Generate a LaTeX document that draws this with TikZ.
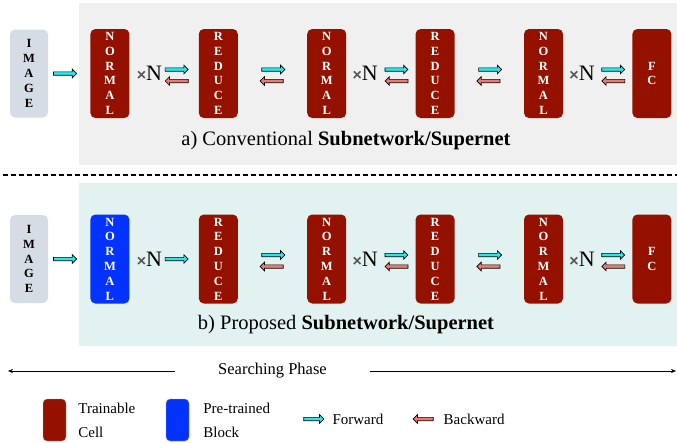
\documentclass[tikz,border=0pt]{standalone}
\usepackage{fontspec}
\setmainfont{Liberation Serif}
\setsansfont{Liberation Sans}
\usetikzlibrary{positioning, calc, shapes.arrows, arrows.meta}

\definecolor{cellred}{RGB}{148,17,0}
\definecolor{blockblue}{RGB}{4,51,255}
\definecolor{imggray}{RGB}{214,220,229}
\definecolor{panelgray}{RGB}{240,240,240}
\definecolor{panelteal}{RGB}{226,242,241}
\definecolor{fwdcyan}{RGB}{40,232,236}
\definecolor{bwdred}{RGB}{240,122,112}
\definecolor{xgray}{RGB}{85,85,85}

\newcommand{\repN}{{\fontsize{16}{16}\selectfont\sffamily\bfseries\textcolor{xgray}{×}}N}

\tikzset{
  box/.style={rounded corners=5pt, minimum width=39pt, minimum height=89pt, inner sep=0pt,
    align=center, font=\fontsize{12.5}{14.8}\selectfont\bfseries},
  cell/.style={box, fill=cellred, text=white},
  pre/.style={box, fill=blockblue, text=white},
  img/.style={box, fill=imggray, text=black, minimum width=38pt, minimum height=88pt},
  fwd/.style={single arrow, draw=black, line width=0.7pt, fill=fwdcyan, minimum height=23pt,
    inner sep=0pt, text height=2.6pt, text depth=0pt, single arrow head extend=2.6pt},
  bwd/.style={fwd, fill=bwdred, shape border rotate=180},
  rep/.style={font=\fontsize{22}{22}\selectfont, inner sep=0pt},
  caption/.style={font=\fontsize{20.5}{24}\selectfont},
  legtext/.style={font=\fontsize{15}{24}\selectfont, align=left, inner sep=0pt},
}

\begin{document}
\begin{tikzpicture}[x=1pt, y=-1pt]
  \useasboundingbox (0,0) rectangle (677,442);

  % panels
  \fill[panelgray] (79,3) rectangle (677,165);
  \fill[panelteal] (79,183) rectangle (677,346);
  \draw[line width=1.2pt, dash pattern=on 5pt off 3pt] (3,175) -- (677,175);

  % a) conventional
  \node[img] (imgA) at (29,73.5) {I\\M\\A\\G\\E};
  \node[cell, right=42pt of imgA] (norA1) {N\\O\\R\\M\\A\\L};
  \node[cell, right=69pt of norA1] (redA1) {R\\E\\D\\U\\C\\E};
  \node[cell, right=69pt of redA1] (norA2) {N\\O\\R\\M\\A\\L};
  \node[cell, right=69pt of norA2] (redA2) {R\\E\\D\\U\\C\\E};
  \node[cell, right=69pt of redA2] (norA3) {N\\O\\R\\M\\A\\L};
  \node[cell, right=69pt of norA3] (fcA) {F\\C};

  \node[fwd, right=5pt of imgA] (fwdA0) {};
  \node[rep, right=7pt of norA1] (repA1) {\repN};
  \node[rep, right=6pt of norA2] (repA2) {\repN};
  \node[rep, right=6pt of norA3] (repA3) {\repN};

  \node[fwd, left=10pt of redA1, yshift=4pt] (fwdA1) {};
  \node[bwd, left=10pt of redA1, yshift=-7.5pt] (bwdA1) {};
  \node[fwd, yshift=4pt] (fwdA2) at ($(redA1.east)!0.5!(norA2.west)$) {};
  \node[bwd, yshift=-7.5pt] (bwdA2) at ($(redA1.east)!0.5!(norA2.west)$) {};
  \node[fwd, left=7pt of redA2, yshift=4pt] (fwdA3) {};
  \node[bwd, left=7pt of redA2, yshift=-7.5pt] (bwdA3) {};
  \node[fwd, yshift=4pt] (fwdA4) at ($(redA2.east)!0.5!(norA3.west)$) {};
  \node[bwd, yshift=-7.5pt] (bwdA4) at ($(redA2.east)!0.5!(norA3.west)$) {};
  \node[fwd, left=7pt of fcA, yshift=4pt] (fwdA5) {};
  \node[bwd, left=7pt of fcA, yshift=-7.5pt] (bwdA5) {};

  \node[caption] (capA) at (346,141) {a) Conventional \textbf{Subnetwork/Supernet}};

  % b) proposed
  \node[img] (imgB) at (29,259) {I\\M\\A\\G\\E};
  \node[pre, right=42pt of imgB] (norB1) {N\\O\\R\\M\\A\\L};
  \node[cell, right=69pt of norB1] (redB1) {R\\E\\D\\U\\C\\E};
  \node[cell, right=69pt of redB1] (norB2) {N\\O\\R\\M\\A\\L};
  \node[cell, right=69pt of norB2] (redB2) {R\\E\\D\\U\\C\\E};
  \node[cell, right=69pt of redB2] (norB3) {N\\O\\R\\M\\A\\L};
  \node[cell, right=69pt of norB3] (fcB) {F\\C};

  \node[fwd, right=5pt of imgB] (fwdB0) {};
  \node[rep, right=7pt of norB1] (repB1) {\repN};
  \node[rep, right=6pt of norB2] (repB2) {\repN};
  \node[rep, right=6pt of norB3] (repB3) {\repN};

  \node[fwd, left=10pt of redB1] (fwdB1) {};
  \node[fwd, yshift=4pt] (fwdB2) at ($(redB1.east)!0.5!(norB2.west)$) {};
  \node[bwd, yshift=-7.5pt] (bwdB2) at ($(redB1.east)!0.5!(norB2.west)$) {};
  \node[fwd, left=7pt of redB2, yshift=4pt] (fwdB3) {};
  \node[bwd, left=7pt of redB2, yshift=-7.5pt] (bwdB3) {};
  \node[fwd, yshift=4pt] (fwdB4) at ($(redB2.east)!0.5!(norB3.west)$) {};
  \node[bwd, yshift=-7.5pt] (bwdB4) at ($(redB2.east)!0.5!(norB3.west)$) {};
  \node[fwd, left=7pt of fcB, yshift=4pt] (fwdB5) {};
  \node[bwd, left=7pt of fcB, yshift=-7.5pt] (bwdB5) {};

  \node[caption] (capB) at (346,325) {b) Proposed \textbf{Subnetwork/Supernet}};

  % searching phase
  \node[font=\fontsize{16.5}{20}\selectfont, inner sep=0pt] (phase) at (272.5,371) {Searching Phase};
  \coordinate (phL) at (8,371);
  \coordinate (phR) at (676,371);
  \draw[-{Stealth[length=5pt, width=4pt]}] ([xshift=-43pt]phase.west) -- (phL);
  \draw[-{Stealth[length=5pt, width=4pt]}] ([xshift=43pt]phase.east) -- (phR);

  % legend
  \node[cell, draw=gray!70, minimum width=23pt, minimum height=42pt, rounded corners=4pt] (legCell) at (54.5,420) {};
  \node[legtext, right=12pt of legCell] (legCellTxt) {Trainable\\Cell};
  \node[pre, draw=gray!70, minimum width=23pt, minimum height=42pt, rounded corners=4pt] (legPre) at (177.5,420) {};
  \node[legtext, right=14pt of legPre] (legPreTxt) {Pre-trained\\Block};
  \node[fwd, minimum height=20pt] (legFwd) at (313,419) {};
  \node[legtext, right=8pt of legFwd] (legFwdTxt) {Forward};
  \node[bwd, minimum height=20pt] (legBwd) at (424,419) {};
  \node[legtext, right=10pt of legBwd] (legBwdTxt) {Backward};
\end{tikzpicture}
\end{document}
